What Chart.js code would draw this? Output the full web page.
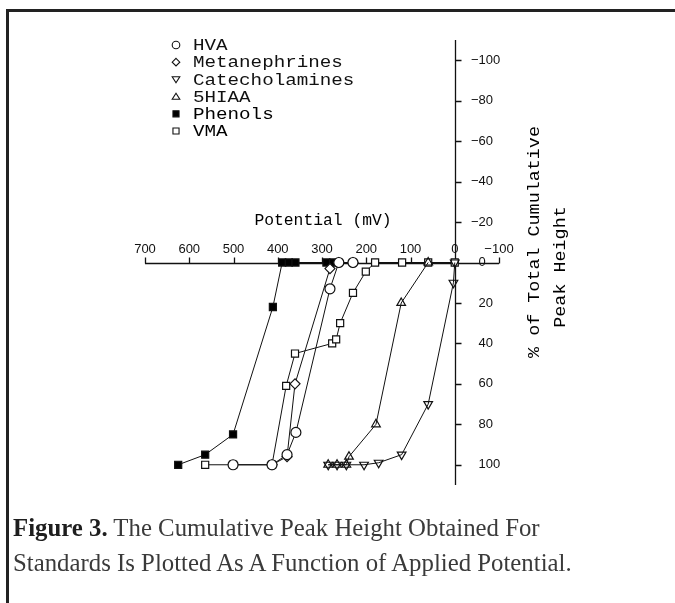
<!DOCTYPE html>
<html><head><meta charset="utf-8">
<script src="https://cdn.jsdelivr.net/npm/chart.js@4.4.0/dist/chart.umd.min.js"></script>
<style>
html,body{margin:0;padding:0;background:#fff;width:675px;height:603px;overflow:hidden;}
#wrap{position:relative;width:675px;height:603px;}
#frame{position:absolute;left:6px;top:9px;width:720px;height:720px;border-left:3px solid #222;border-top:3px solid #222;box-sizing:border-box;}
canvas{position:absolute;left:0;top:0;}
#cap{position:absolute;left:13px;top:510px;font-family:"Liberation Serif",serif;font-size:24.8px;line-height:35px;color:#3a3a3a;white-space:nowrap;}
#cap b{color:#1e1e1e;}
</style></head>
<body><div id="wrap"><div id="frame"></div><canvas id="c" width="675" height="603"></canvas>
<div id="cap"><b>Figure 3.</b> The Cumulative Peak Height Obtained For<br>Standards Is Plotted As A Function of Applied Potential.</div></div>
<script>
// ---- data (potential in mV, cumulative % peak height) ----
const hvaX  = [501, 413, 379, 359, 282, 262, 230];
const hvaY  = [100, 100, 95, 84, 13, 0, 0];
const metX  = [413, 379, 361, 282, 262, 230];
const metY  = [100, 96, 60, 3, 0, 0];
const catX  = [286, 266, 245, 205, 172, 120, 60, 3, 0];
const catY  = [100, 100, 100, 100, 99, 95, 70, 10, 0];
const hiaaX = [286, 266, 245, 239, 178, 121, 60];
const hiaaY = [100, 100, 100, 96, 80, 20, 0];
const phenX = [625, 564, 501, 411, 390, 375, 360, 290, 275];
const phenY = [100, 95, 85, 22, 0, 0, 0, 0, 0];
const vmaX  = [564, 501, 413, 381, 361, 277, 268, 259, 230, 201, 180, 119, 60, 0];
const vmaY  = [100, 100, 100, 61, 45, 40, 38, 30, 15, 4.5, 0, 0, 0, 0];

const seriesNames = ['HVA', 'Metanephrines', 'Catecholamines', '5HIAA', 'Phenols', 'VMA'];
const xTickValues = [700, 600, 500, 400, 300, 200, 100, 0, -100];
const yTickValues = [-100, -80, -60, -40, -20, 0, 20, 40, 60, 80, 100];
const xTitle = 'Potential (mV)';
const yTitle = ['% of Total Cumulative', 'Peak Height'];

function pts(xs, ys) { return xs.map((x, i) => ({x: x, y: ys[i]})); }

const styles = [
  {pointStyle: 'circle', rotation: 0, fill: '#fff'},
  {pointStyle: 'rectRot', rotation: 0, fill: '#fff'},
  {pointStyle: 'triangle', rotation: 180, fill: 'rgba(255,255,255,0)'},
  {pointStyle: 'triangle', rotation: 0, fill: 'rgba(255,255,255,0)'},
  {pointStyle: 'rect', rotation: 0, fill: '#000'},
  {pointStyle: 'rect', rotation: 0, fill: '#fff'}
];
const allData = [pts(hvaX, hvaY), pts(metX, metY), pts(catX, catY), pts(hiaaX, hiaaY), pts(phenX, phenY), pts(vmaX, vmaY)];

const datasets = allData.map((d, i) => ({
  label: seriesNames[i],
  data: d,
  showLine: true,
  borderColor: '#111',
  borderWidth: 1,
  pointStyle: styles[i].pointStyle,
  rotation: styles[i].rotation,
  pointRadius: 5,
  pointBorderWidth: 1.2,
  pointBorderColor: '#111',
  pointBackgroundColor: styles[i].fill,
  clip: false
}));

function drawSym(ctx, kind, x, y, r) {
  ctx.beginPath();
  if (kind === 0) { ctx.arc(x, y, r, 0, Math.PI * 2); }
  else if (kind === 1) { ctx.moveTo(x, y - r); ctx.lineTo(x + r, y); ctx.lineTo(x, y + r); ctx.lineTo(x - r, y); ctx.closePath(); }
  else if (kind === 2) { ctx.moveTo(x - r, y - r * 0.7); ctx.lineTo(x + r, y - r * 0.7); ctx.lineTo(x, y + r * 0.9); ctx.closePath(); }
  else if (kind === 3) { ctx.moveTo(x - r, y + r * 0.7); ctx.lineTo(x + r, y + r * 0.7); ctx.lineTo(x, y - r * 0.9); ctx.closePath(); }
  else { ctx.rect(x - r * 0.8, y - r * 0.8, r * 1.6, r * 1.6); }
  if (kind === 4) { ctx.fillStyle = '#000'; ctx.fill(); }
  ctx.stroke();
}

// draw text stretched horizontally (wide typewriter face)
function wideText(ctx, text, x, y, sx, align) {
  ctx.save();
  ctx.translate(x, y);
  ctx.scale(sx, 1);
  ctx.textAlign = align;
  ctx.fillText(text, 0, 0);
  ctx.restore();
}

const axesPlugin = {
  id: 'centerAxes',
  beforeDatasetsDraw(chart) {
    const ctx = chart.ctx, xs = chart.scales.x, ys = chart.scales.y;
    const x0 = Math.round(xs.getPixelForValue(0)) + 0.5;
    const y0 = Math.round(ys.getPixelForValue(0)) + 0.5;
    ctx.save();
    ctx.strokeStyle = '#111';
    ctx.lineWidth = 1.3;
    ctx.beginPath();
    ctx.moveTo(xs.getPixelForValue(700), y0);
    ctx.lineTo(xs.getPixelForValue(-100), y0);
    ctx.moveTo(x0, ys.getPixelForValue(-110));
    ctx.lineTo(x0, ys.getPixelForValue(110));
    xTickValues.forEach(v => {
      const px = Math.round(xs.getPixelForValue(v)) + 0.5;
      ctx.moveTo(px, y0); ctx.lineTo(px, y0 - 6);
    });
    yTickValues.forEach(v => {
      const py = Math.round(ys.getPixelForValue(v)) + 0.5;
      ctx.moveTo(x0, py); ctx.lineTo(x0 + 6, py);
    });
    ctx.stroke();
    ctx.fillStyle = '#111';
    ctx.font = '13px "Liberation Sans", Arial, sans-serif';
    ctx.textBaseline = 'middle';
    ctx.textAlign = 'center';
    xTickValues.forEach(v => {
      const px = xs.getPixelForValue(v);
      ctx.fillText(v < 0 ? '\u2212' + Math.abs(v) : String(v), px, y0 - 14);
    });
    yTickValues.forEach(v => {
      const py = ys.getPixelForValue(v);
      ctx.textAlign = 'left';
      ctx.fillText(String(Math.abs(v)), x0 + 23, py);
      if (v < 0) { ctx.textAlign = 'right'; ctx.fillText('\u2212', x0 + 23, py); }
    });
    ctx.restore();
  },
  afterDraw(chart) {
    const ctx = chart.ctx;
    ctx.save();
    ctx.fillStyle = '#111';
    ctx.strokeStyle = '#111';
    ctx.lineWidth = 1.1;
    ctx.textBaseline = 'middle';
    ctx.font = '16px "Liberation Mono", "DejaVu Sans Mono", monospace';
    seriesNames.forEach((n, i) => {
      const y = 45 + i * 17.2;
      drawSym(ctx, i, 176, y, 3.8);
      wideText(ctx, n, 193, y + 1, 1.2, 'left');
    });
    wideText(ctx, xTitle, 323, 221, 1.02, 'center');
    ctx.save();
    ctx.translate(535, 242);
    ctx.rotate(-Math.PI / 2);
    wideText(ctx, yTitle[0], 0, 0, 1.15, 'center');
    ctx.restore();
    ctx.save();
    ctx.translate(561, 267);
    ctx.rotate(-Math.PI / 2);
    wideText(ctx, yTitle[1], 0, 0, 1.15, 'center');
    ctx.restore();
    ctx.restore();
  }
};

new Chart(document.getElementById('c'), {
  type: 'scatter',
  data: {datasets: datasets},
  options: {
    responsive: false,
    animation: false,
    devicePixelRatio: 1,
    layout: {padding: {left: 145, right: 176, top: 40, bottom: 118}},
    plugins: {legend: {display: false}, tooltip: {enabled: false}},
    scales: {
      x: {type: 'linear', reverse: true, min: -100, max: 700, display: false},
      y: {type: 'linear', reverse: true, min: -110, max: 110, display: false}
    }
  },
  plugins: [axesPlugin]
});
</script>
</body></html>
